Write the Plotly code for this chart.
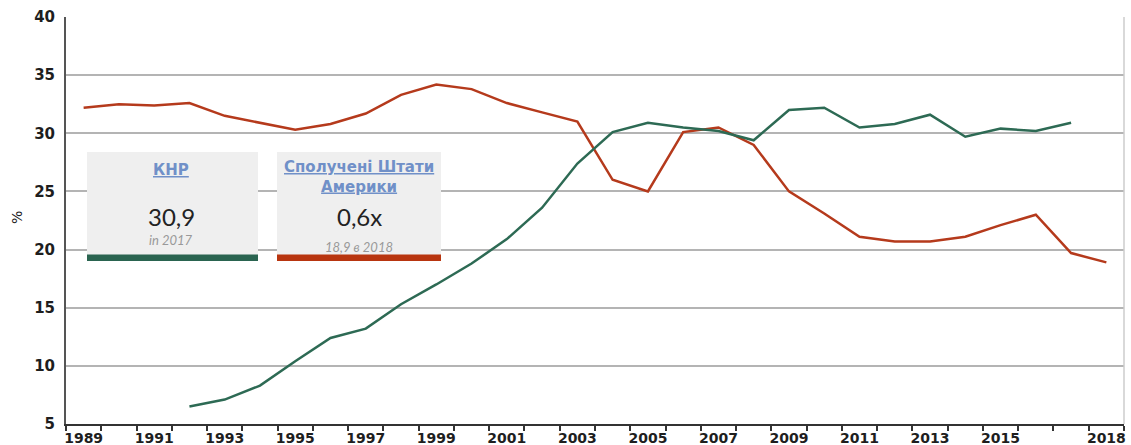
import plotly.graph_objects as go

years = list(range(1989, 2019))
china_years = list(range(1992, 2018))
china = [6.5, 7.1, 8.3, 10.4, 12.4, 13.2, 15.3, 17.0, 18.8, 20.9,
         23.6, 27.4, 30.1, 30.9, 30.5, 30.2, 29.4, 32.0, 32.2, 30.5,
         30.8, 31.6, 29.7, 30.4, 30.2, 30.9]
usa = [32.2, 32.5, 32.4, 32.6, 31.5, 30.9, 30.3, 30.8, 31.7, 33.3,
       34.2, 33.8, 32.6, 31.8, 31.0, 26.0, 25.0, 30.1, 30.5, 29.0,
       25.0, 23.1, 21.1, 20.7, 20.7, 21.1, 22.1, 23.0, 19.7, 18.9]
label_years = [1989, 1991, 1993, 1995, 1997, 1999, 2001, 2003, 2005,
               2007, 2009, 2011, 2013, 2015, 2018]

GREEN = "#2d6a54"
RED = "#b53a1c"

W, H = 1131, 445
L, R, T, B = 66, 7, 17, 21
PW, PH = W - L - R, H - T - B


def px(x):
    return (x - L) / PW


def py(y):
    return (H - B - y) / PH


fig = go.Figure()
fig.add_trace(go.Scatter(x=years, y=usa, mode="lines",
                         line=dict(color=RED, width=2.5), name="USA"))
fig.add_trace(go.Scatter(x=china_years, y=china, mode="lines",
                         line=dict(color=GREEN, width=2.5), name="China"))

tick_font = dict(family="DejaVu Sans", size=14, color="#1e1e1e", weight="bold")

fig.update_layout(
    width=W, height=H,
    margin=dict(l=L, r=R, t=T, b=B, autoexpand=False),
    paper_bgcolor="white", plot_bgcolor="white",
    showlegend=False,
    xaxis=dict(
        range=[1988.5, 2018.5],
        tickvals=label_years,
        ticktext=[str(y) for y in label_years],
        ticks="", showgrid=False, zeroline=False, automargin=False,
        showline=True, linecolor="#333", linewidth=2,
        tickfont=tick_font, ticklabelstandoff=0,
        minor=dict(tickvals=[y - 0.5 for y in years] + [2018.5],
                   ticks="outside", ticklen=5, tickcolor="#333",
                   tickwidth=1.5, showgrid=False),
    ),
    yaxis=dict(
        range=[5, 40], dtick=5, tick0=5, automargin=False,
        showgrid=True, gridcolor="#b4b4b4", gridwidth=1.5,
        zeroline=False, showline=True, linecolor="#555", linewidth=2,
        ticks="", ticklabelstandoff=6,
        tickfont=dict(family="DejaVu Sans", size=15, color="#1e1e1e", weight="bold"),
    ),
)

shapes = [
    # right border
    dict(type="line", xref="paper", yref="paper", x0=1, x1=1, y0=0, y1=1,
         line=dict(color="#cccccc", width=1.5)),
    # box 1
    dict(type="rect", xref="paper", yref="paper", x0=px(87), x1=px(258),
         y0=py(261), y1=py(152), fillcolor="#efefef", line=dict(width=0), layer="above"),
    dict(type="rect", xref="paper", yref="paper", x0=px(87), x1=px(258),
         y0=py(261), y1=py(254.5), fillcolor="#2a6450", line=dict(width=0), layer="above"),
    # box 2
    dict(type="rect", xref="paper", yref="paper", x0=px(277), x1=px(441),
         y0=py(261), y1=py(152), fillcolor="#efefef", line=dict(width=0), layer="above"),
    dict(type="rect", xref="paper", yref="paper", x0=px(277), x1=px(441),
         y0=py(261), y1=py(254.5), fillcolor="#b8350f", line=dict(width=0), layer="above"),
]
fig.update_layout(shapes=shapes)

link_font = dict(family="DejaVu Sans", size=15, color="#7090c8", weight="bold")
big_font = dict(family="Lato, Open Sans", size=24, color="#222")
small_font = dict(family="Lato, Open Sans", size=13, color="#999", style="italic")


def ann(text, x, y, font, angle=0):
    fig.add_annotation(text=text, x=px(x), y=py(y), xref="paper", yref="paper",
                       showarrow=False, font=font, xanchor="center", yanchor="middle",
                       textangle=angle)


ann("%", 17, 218, dict(family="DejaVu Sans", size=14, color="#222"), angle=-90)
ann("<u>КНР</u>", 171, 170, link_font)
ann("30,9", 171, 217, big_font)
ann("in 2017", 171, 240, small_font)
ann("<u>Сполучені Штати</u><br><u>Америки</u>", 359, 177, link_font)
ann("0,6x", 359, 216, big_font)
ann("18,9 в 2018", 359, 247, small_font)

fig.write_html(
    "out.html",
    config={"displayModeBar": False},
    post_script="document.body.style.margin='0px';document.body.style.overflow='hidden';",
)
